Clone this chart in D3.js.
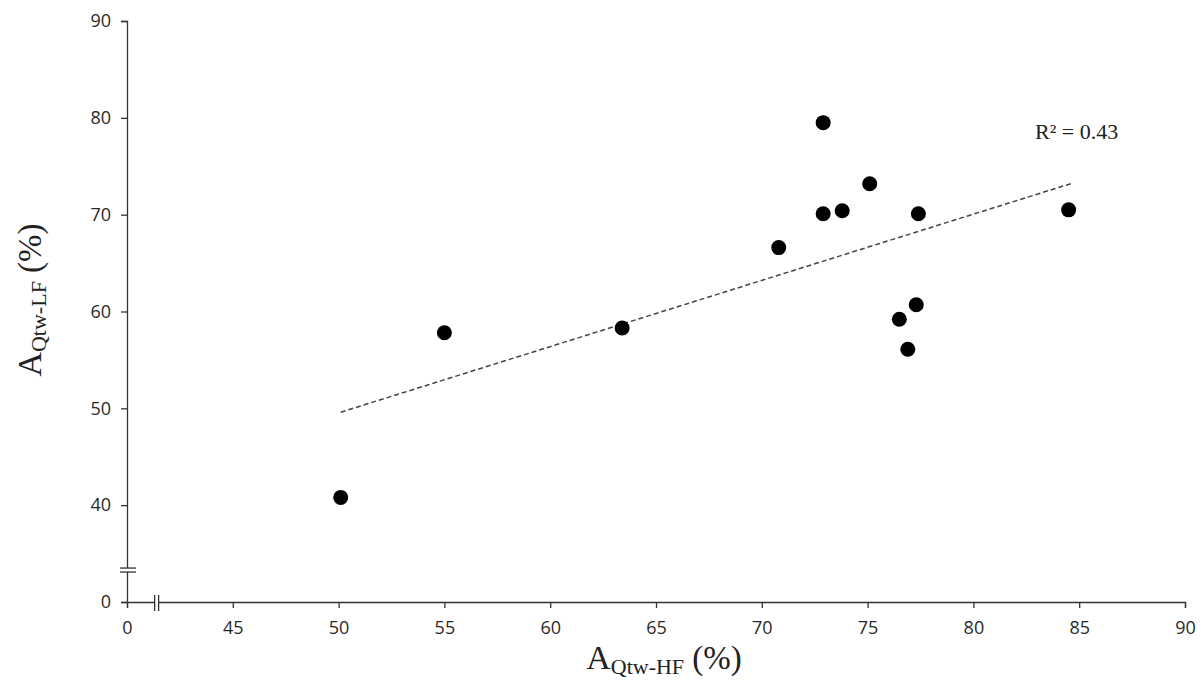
<!DOCTYPE html>
<html lang="en">
<head>
    <meta charset="UTF-8">
    <title>AQtw scatter</title>
    <script src="https://cdnjs.cloudflare.com/ajax/libs/d3/7.8.5/d3.min.js"></script>
    <style>
        body{
            margin:0;
            background:#fff;
        }
        svg{
            display:block;
        }
        .tick text{
            font-family:"Open Sans", sans-serif;
            font-size:18px;
            fill:#2a2a2a;
        }
        .title{
            font-family:"Liberation Serif", "Times New Roman", serif;
            fill:#222;
        }
    </style>
</head>
<body>
<svg id="chart" width="1201" height="691"></svg>
<script>
// values
const hfValues = [50.1, 55.0, 63.4, 70.8, 72.9, 72.9, 73.8, 75.1, 77.4, 77.3, 76.5, 76.9, 84.5];
const lfValues = [40.8, 57.8, 58.3, 66.6, 79.5, 70.1, 70.4, 73.2, 70.1, 60.7, 59.2, 56.1, 70.5];

// trendline end points (as drawn)
const trendX = [50.1, 84.6];
const trendY = [49.6, 73.2];
const rSquared = "R² = 0.43";

// axis ticks; the first one of each axis is the "0" placed before the break
const xTicks = [40, 45, 50, 55, 60, 65, 70, 75, 80, 85, 90];
const xTickLabels = ["0", "45", "50", "55", "60", "65", "70", "75", "80", "85", "90"];
const yTicks = [30, 40, 50, 60, 70, 80, 90];
const yTickLabels = ["0", "40", "50", "60", "70", "80", "90"];

const svg = d3.select("#chart");

const x = d3.scaleLinear().domain([40, 90]).range([127, 1185]);
const y = d3.scaleLinear().domain([30, 90]).range([602, 21]);

const xAxis = d3.axisBottom(x)
    .tickValues(xTicks)
    .tickFormat((d, i) => xTickLabels[i])
    .tickSizeOuter(0)
    .tickSize(6)
    .tickPadding(13);

const yAxis = d3.axisLeft(y)
    .tickValues(yTicks)
    .tickFormat((d, i) => yTickLabels[i])
    .tickSizeOuter(0)
    .tickSize(6)
    .tickPadding(10);

const gx = svg.append("g")
    .attr("transform", `translate(0,${y(30)})`)
    .call(xAxis);

const gy = svg.append("g")
    .attr("transform", `translate(${x(40)},0)`)
    .call(yAxis);

[gx, gy].forEach(g => {
    g.selectAll("path, line").attr("stroke", "#333").attr("stroke-width", 1.3);
});

// axis breaks
const xb = x(41.4);
const yb = y(33.3);
svg.append("rect")
    .attr("x", xb - 2).attr("y", y(30) - 3)
    .attr("width", 4).attr("height", 6)
    .attr("fill", "#fff");
[-2, 2].forEach(o => {
    svg.append("line")
        .attr("x1", xb + o).attr("x2", xb + o)
        .attr("y1", y(30) - 7).attr("y2", y(30) + 9)
        .attr("stroke", "#333").attr("stroke-width", 1.3);
});
svg.append("rect")
    .attr("x", x(40) - 3).attr("y", yb - 2)
    .attr("width", 6).attr("height", 4)
    .attr("fill", "#fff");
[-2, 2].forEach(o => {
    svg.append("line")
        .attr("x1", x(40) - 7).attr("x2", x(40) + 9)
        .attr("y1", yb + o).attr("y2", yb + o)
        .attr("stroke", "#333").attr("stroke-width", 1.3);
});

// trendline
svg.append("line")
    .attr("x1", x(trendX[0])).attr("y1", y(trendY[0]))
    .attr("x2", x(trendX[1])).attr("y2", y(trendY[1]))
    .attr("stroke", "#444")
    .attr("stroke-width", 1.5)
    .attr("stroke-dasharray", "5,3");

// points
svg.append("g")
    .selectAll("circle")
    .data(hfValues)
    .enter()
    .append("circle")
    .attr("cx", d => x(d))
    .attr("cy", (d, i) => y(lfValues[i]))
    .attr("r", 7.5)
    .attr("fill", "#000");

svg.append("text")
    .attr("class", "title")
    .attr("x", 1035).attr("y", 139)
    .attr("font-size", 22)
    .text(rSquared);

// axis titles
const xt = svg.append("text")
    .attr("class", "title")
    .attr("x", 664).attr("y", 669)
    .attr("text-anchor", "middle");
xt.append("tspan").attr("font-size", 34).text("A");
xt.append("tspan").attr("font-size", 22).attr("dy", 5).text("Qtw-HF");
xt.append("tspan").attr("font-size", 33).attr("dy", -5).text(" (%)");

const yt = svg.append("text")
    .attr("class", "title")
    .attr("transform", "translate(41,300) rotate(-90)")
    .attr("text-anchor", "middle");
yt.append("tspan").attr("font-size", 34).text("A");
yt.append("tspan").attr("font-size", 22).attr("dy", 5).text("Qtw-LF");
yt.append("tspan").attr("font-size", 33).attr("dy", -5).text(" (%)");
</script>
</body>
</html>
